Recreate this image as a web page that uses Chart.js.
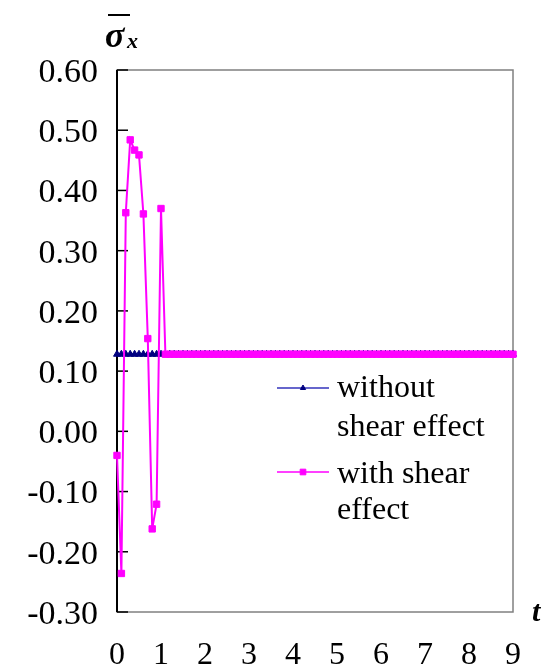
<!DOCTYPE html>
<html>
<head>
<meta charset="utf-8">
<script src="https://cdn.jsdelivr.net/npm/chart.js@4.4.1/dist/chart.umd.min.js"></script>
<style>
  html, body { margin: 0; padding: 0; background: #fff; }
  #wrap { position: relative; width: 545px; height: 664px; overflow: hidden; }
  #wrap canvas { position: absolute; left: 0; top: 0; }
  .serif { position: absolute; font-family: "Liberation Serif", "Times New Roman", serif;
           font-weight: bold; font-style: italic; line-height: 1; color: #000; white-space: nowrap; }
  #sigma { left: 105px; top: 17px; font-size: 36px; }
  #sigmaSub { left: 127px; top: 30px; font-size: 22px; }
  #sigmaBar { position: absolute; left: 108px; top: 14px; width: 22px; height: 2px; background: #000; }
  #tTitle { left: 532px; top: 596px; font-size: 30px; }
</style>
</head>
<body>
<div id="wrap">
  <canvas id="chart" width="545" height="664"></canvas>
  <div id="sigmaBar"></div>
  <span id="sigma" class="serif">σ</span>
  <span id="sigmaSub" class="serif">x</span>
  <span id="tTitle" class="serif">t</span>
</div>
<script>
// time grid (t)
const tGrid = [
  0.0, 0.1, 0.2, 0.3, 0.4, 0.5, 0.6, 0.7, 0.8, 0.9,
  1.0, 1.1, 1.2, 1.3, 1.4, 1.5, 1.6, 1.7, 1.8, 1.9,
  2.0, 2.1, 2.2, 2.3, 2.4, 2.5, 2.6, 2.7, 2.8, 2.9,
  3.0, 3.1, 3.2, 3.3, 3.4, 3.5, 3.6, 3.7, 3.8, 3.9,
  4.0, 4.1, 4.2, 4.3, 4.4, 4.5, 4.6, 4.7, 4.8, 4.9,
  5.0, 5.1, 5.2, 5.3, 5.4, 5.5, 5.6, 5.7, 5.8, 5.9,
  6.0, 6.1, 6.2, 6.3, 6.4, 6.5, 6.6, 6.7, 6.8, 6.9,
  7.0, 7.1, 7.2, 7.3, 7.4, 7.5, 7.6, 7.7, 7.8, 7.9,
  8.0, 8.1, 8.2, 8.3, 8.4, 8.5, 8.6, 8.7, 8.8, 8.9,
  9.0
];

// sigma_x without shear effect
const sigmaWithout = [
  0.128, 0.128, 0.128, 0.128, 0.128, 0.128, 0.128, 0.128, 0.128, 0.128,
  0.128, 0.128, 0.128, 0.128, 0.128, 0.128, 0.128, 0.128, 0.128, 0.128,
  0.128, 0.128, 0.128, 0.128, 0.128, 0.128, 0.128, 0.128, 0.128, 0.128,
  0.128, 0.128, 0.128, 0.128, 0.128, 0.128, 0.128, 0.128, 0.128, 0.128,
  0.128, 0.128, 0.128, 0.128, 0.128, 0.128, 0.128, 0.128, 0.128, 0.128,
  0.128, 0.128, 0.128, 0.128, 0.128, 0.128, 0.128, 0.128, 0.128, 0.128,
  0.128, 0.128, 0.128, 0.128, 0.128, 0.128, 0.128, 0.128, 0.128, 0.128,
  0.128, 0.128, 0.128, 0.128, 0.128, 0.128, 0.128, 0.128, 0.128, 0.128,
  0.128, 0.128, 0.128, 0.128, 0.128, 0.128, 0.128, 0.128, 0.128, 0.128,
  0.128
];

// sigma_x with shear effect
const sigmaWith = [
  -0.040, -0.236, 0.363, 0.484, 0.467, 0.459, 0.361, 0.154, -0.162, -0.121,
  0.370, 0.128, 0.128, 0.128, 0.128, 0.128, 0.128, 0.128, 0.128, 0.128,
  0.128, 0.128, 0.128, 0.128, 0.128, 0.128, 0.128, 0.128, 0.128, 0.128,
  0.128, 0.128, 0.128, 0.128, 0.128, 0.128, 0.128, 0.128, 0.128, 0.128,
  0.128, 0.128, 0.128, 0.128, 0.128, 0.128, 0.128, 0.128, 0.128, 0.128,
  0.128, 0.128, 0.128, 0.128, 0.128, 0.128, 0.128, 0.128, 0.128, 0.128,
  0.128, 0.128, 0.128, 0.128, 0.128, 0.128, 0.128, 0.128, 0.128, 0.128,
  0.128, 0.128, 0.128, 0.128, 0.128, 0.128, 0.128, 0.128, 0.128, 0.128,
  0.128, 0.128, 0.128, 0.128, 0.128, 0.128, 0.128, 0.128, 0.128, 0.128,
  0.128
];

const seriesNames = ["without shear effect", "with shear effect"];
// legend rows, top to bottom, wrapped as in the figure
const legendLines = [["without", "shear effect"], ["with shear", "effect"]];

const xMin = 0, xMax = 9, xStep = 1;
const yMin = -0.3, yMax = 0.6, yStep = 0.1;

const FONT = "'Liberation Serif', 'Times New Roman', serif";

function toPoints(xs, ys) {
  return xs.map((x, i) => ({ x: x, y: ys[i] }));
}

// box around plot + black left axis with inward ticks
const framePlugin = {
  id: "frame",
  beforeDatasetsDraw(chart) {
    const { ctx, chartArea: a, scales } = chart;
    ctx.save();
    ctx.strokeStyle = "#808080";
    ctx.lineWidth = 1.5;
    ctx.strokeRect(a.left, a.top, a.right - a.left, a.bottom - a.top);
    ctx.strokeStyle = "#000";
    ctx.lineWidth = 2;
    ctx.beginPath();
    ctx.moveTo(a.left, a.top);
    ctx.lineTo(a.left, a.bottom);
    ctx.stroke();
    ctx.lineWidth = 1.5;
    scales.y.ticks.forEach((t) => {
      const py = scales.y.getPixelForValue(t.value);
      ctx.beginPath();
      ctx.moveTo(a.left, py);
      ctx.lineTo(a.left + 11, py);
      ctx.stroke();
    });
    ctx.restore();
  }
};

// legend drawn inside the plot, labels wrapped on two lines
const legendPlugin = {
  id: "wrappedLegend",
  afterDraw(chart) {
    const ctx = chart.ctx;
    const rows = [
      { ds: 1, lineY: 388, base: [397, 436] },  // without shear effect
      { ds: 0, lineY: 472, base: [483, 519] }   // with shear effect
    ];
    ctx.save();
    ctx.font = "32px " + FONT;
    ctx.textBaseline = "alphabetic";
    rows.forEach((r, i) => {
      const ds = chart.data.datasets[r.ds];
      ctx.strokeStyle = ds.borderColor;
      ctx.lineWidth = 1.5;
      ctx.beginPath();
      ctx.moveTo(277, r.lineY);
      ctx.lineTo(329, r.lineY);
      ctx.stroke();
      ctx.fillStyle = ds.pointBackgroundColor;
      ctx.strokeStyle = ds.pointBorderColor;
      ctx.lineWidth = 1;
      Chart.helpers.drawPoint(ctx, { pointStyle: ds.pointStyle, radius: ds.legendRadius, borderWidth: 1 }, 303, r.lineY);
      ctx.fillStyle = "#000";
      legendLines[i].forEach((txt, k) => ctx.fillText(txt, 337, r.base[k]));
    });
    ctx.restore();
  }
};

new Chart(document.getElementById("chart"), {
  type: "line",
  data: {
    datasets: [
      {
        label: seriesNames[1],
        data: toPoints(tGrid, sigmaWith),
        borderColor: "#ff00ff",
        borderWidth: 2,
        pointStyle: "rect",
        pointRadius: 4.5,
        pointBorderWidth: 1,
        pointBackgroundColor: "#ff00ff",
        pointBorderColor: "#ff00ff",
        legendRadius: 4,
        tension: 0,
        clip: false,
        order: 1
      },
      {
        label: seriesNames[0],
        data: toPoints(tGrid, sigmaWithout),
        borderColor: "#3333bb",
        borderWidth: 1.5,
        pointStyle: "triangle",
        pointRadius: 4,
        pointBorderWidth: 1,
        pointBackgroundColor: "#000080",
        pointBorderColor: "#000080",
        legendRadius: 3,
        tension: 0,
        clip: false,
        order: 2
      }
    ]
  },
  options: {
    responsive: false,
    animation: false,
    events: [],
    layout: { padding: { left: 0, right: 32, top: 70, bottom: 0 } },
    plugins: { legend: { display: false }, tooltip: { enabled: false } },
    scales: {
      x: {
        type: "linear",
        min: xMin,
        max: xMax,
        ticks: { stepSize: xStep, padding: 24, color: "#000", font: { family: FONT, size: 32 } },
        grid: { display: false, drawTicks: false },
        border: { display: false },
        afterFit(s) { s.height = 52; }
      },
      y: {
        type: "linear",
        min: yMin,
        max: yMax,
        ticks: {
          stepSize: yStep,
          padding: 19,
          labelOffset: 3,
          color: "#000",
          font: { family: FONT, size: 34 },
          callback: (v) => Number(v).toFixed(2)
        },
        grid: { display: false, drawTicks: false },
        border: { display: false },
        afterFit(s) { s.width = 117; }
      }
    }
  },
  plugins: [framePlugin, legendPlugin]
});
</script>
</body>
</html>
